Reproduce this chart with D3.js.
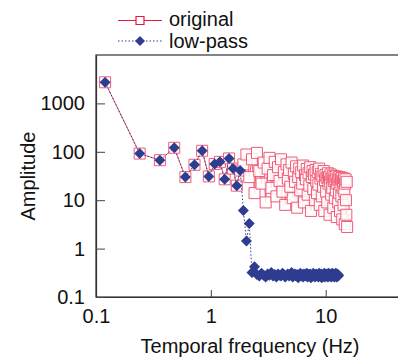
<!DOCTYPE html>
<html>
<head>
<meta charset="utf-8">
<script src="https://cdn.jsdelivr.net/npm/d3@7"></script>
<style>
  body { margin: 0; background: #fff; }
  svg text { font-family: "Liberation Sans", Arial, sans-serif; fill: #111; }
</style>
</head>
<body>
<div id="chart"></div>
<script>
// frequencies (Hz)
var freq = [
  0.12,0.24,0.36,0.48,0.60,0.72,0.84,0.96,1.08,1.20,
  1.32,1.44,1.56,1.68,1.80,1.92,2.04,2.16,2.28,2.40,
  2.52,2.64,2.76,2.88,3.00,3.12,3.24,3.36,3.48,3.60,
  3.72,3.84,3.96,4.08,4.20,4.32,4.44,4.56,4.68,4.80,
  4.92,5.04,5.16,5.28,5.40,5.52,5.64,5.76,5.88,6.00,
  6.12,6.24,6.36,6.48,6.60,6.72,6.84,6.96,7.08,7.20,
  7.32,7.44,7.56,7.68,7.80,7.92,8.04,8.16,8.28,8.40,
  8.52,8.64,8.76,8.88,9.00,9.12,9.24,9.36,9.48,9.60,
  9.72,9.84,9.96,10.08,10.20,10.32,10.44,10.56,10.68,10.80,
  10.92,11.04,11.16,11.28,11.40,11.52,11.64,11.76,11.88,12.00,
  12.12,12.24,12.36,12.48,12.60,12.72,12.84,12.96,13.08,13.20,
  13.32,13.44,13.56,13.68,13.80,13.92,14.04,14.16,14.28,14.40,
  14.52,14.64,14.76,14.88,15.00,15.12,15.24,15.36
];

var original = [
  2730, 92, 67, 121, 30, 54, 105, 31, 56, 62,
  27, 73, 45, 20, 41, 55, 88, 30, 70, 14,
  95, 40, 22, 60, 9, 45, 75, 18, 33, 62,
  12, 48, 25, 70, 15, 38, 8, 55, 28, 42,
  19, 60, 11, 35, 24, 50, 7, 30, 45, 16,
  38, 22, 52, 9, 33, 27, 44, 13, 36, 20,
  48, 6, 30, 40, 17, 34, 10, 42, 25, 14,
  38, 21, 45, 8, 28, 35, 12, 31, 19, 40,
  6, 26, 33, 15, 29, 9, 36, 22, 30, 5,
  24, 34, 13, 28, 18, 32, 7, 25, 30, 11,
  27, 16, 31, 4.5, 22, 28, 9, 26, 14, 30,
  6, 21, 27, 12, 29, 4, 18, 25, 8, 28,
  15, 3.2, 22, 27, 10, 5, 24, 2.8
];

var lowpass = [
  2730, 92, 67, 121, 30, 54, 105, 31, 56, 62,
  27, 73, 45, 20, 41, 6.1, 1.44, 3.3, 0.32, 0.42,
  0.29, 0.27, 0.31, 0.28, 0.26, 0.30, 0.28, 0.32, 0.27, 0.29,
  0.26, 0.30, 0.28, 0.27, 0.31, 0.29, 0.26, 0.28, 0.30, 0.27,
  0.29, 0.32, 0.26, 0.28, 0.30, 0.27, 0.29, 0.25, 0.28, 0.31,
  0.27, 0.29, 0.26, 0.30, 0.28, 0.27, 0.31, 0.26, 0.29, 0.28,
  0.30, 0.25, 0.28, 0.27, 0.31, 0.29, 0.26, 0.28, 0.30, 0.27,
  0.28, 0.26, 0.31, 0.29, 0.27, 0.30, 0.25, 0.28, 0.29, 0.27,
  0.31, 0.26, 0.28, 0.30, 0.27, 0.29, 0.26, 0.31, 0.28, 0.27,
  0.30, 0.28, 0.26, 0.29, 0.31, 0.27, 0.28, 0.30, 0.26, 0.29,
  0.27, 0.31, 0.28, 0.26, 0.30, 0.29, 0.27, 0.28
];

var xTicks = [0.1, 1, 10];
var yTicks = [0.1, 1, 10, 100, 1000];

var w = 398;
var h = 362;
var red = "#e8173f";
var blue = "#2e3d90";

var svg = d3.select("#chart")
  .append("svg")
  .attr("width", w)
  .attr("height", h);

var xscale = d3.scaleLog()
  .domain([0.1, 50])
  .range([96, 406]);

var yscale = d3.scaleLog()
  .domain([0.1, 10000])
  .range([297, 55]);

// frame
svg.append("rect")
  .attr("x", xscale.range()[0])
  .attr("y", yscale.range()[1])
  .attr("width", xscale.range()[1] - xscale.range()[0])
  .attr("height", yscale.range()[0] - yscale.range()[1])
  .style("fill", "none")
  .style("stroke", "#333")
  .style("stroke-width", 1.2);

var xaxis = d3.axisBottom(xscale)
  .tickValues(xTicks)
  .tickFormat(function(d) { return String(d); })
  .tickSizeInner(-7)
  .tickSizeOuter(0)
  .tickPadding(12);

var yaxis = d3.axisLeft(yscale)
  .tickValues(yTicks)
  .tickFormat(function(d) { return String(d); })
  .tickSizeInner(-9)
  .tickSizeOuter(0)
  .tickPadding(11);

var gx = svg.append("g")
  .attr("transform", "translate(0," + yscale.range()[0] + ")")
  .call(xaxis);
var gy = svg.append("g")
  .attr("transform", "translate(" + xscale.range()[0] + ",0)")
  .call(yaxis);

[gx, gy].forEach(function(g) {
  g.select(".domain").style("stroke", "#333").style("stroke-width", 1.2);
  g.selectAll(".tick line").style("stroke", "#444");
  g.selectAll(".tick text").style("font-size", "20px").style("font-family", "Liberation Sans, Arial, sans-serif").style("fill", "#111");
});

svg.append("text")
  .attr("x", 250)
  .attr("y", 353)
  .attr("text-anchor", "middle")
  .style("font-size", "20px")
  .text("Temporal frequency (Hz)");

svg.append("text")
  .attr("transform", "translate(35,176) rotate(-90)")
  .attr("text-anchor", "middle")
  .style("font-size", "20px")
  .text("Amplitude");

var dataOrig = freq.map(function(f, i) { return { f: f, v: original[i] }; });
var dataLow = freq.map(function(f, i) { return { f: f, v: lowpass[i] }; });

var line = d3.line()
  .x(function(d) { return xscale(d.f); })
  .y(function(d) { return yscale(d.v); });

function square(cx, cy, s) {
  return "M" + (cx - s / 2) + "," + (cy - s / 2) + "h" + s + "v" + s + "h" + (-s) + "Z";
}
function diamond(cx, cy, r) {
  return "M" + cx + "," + (cy - r) + "L" + (cx + r) + "," + cy + "L" + cx + "," + (cy + r) + "L" + (cx - r) + "," + cy + "Z";
}

// original
svg.append("path")
  .datum(dataOrig)
  .attr("d", line)
  .style("fill", "none")
  .style("stroke", red)
  .style("stroke-width", 0.9)
  .style("opacity", 0.8);

svg.selectAll("path.sq")
  .data(dataOrig)
  .enter().append("path")
  .attr("class", "sq")
  .attr("d", function(d) { return square(xscale(d.f), yscale(d.v), 11); })
  .style("fill", "#fff")
  .style("fill-opacity", 0.85)
  .style("stroke", "#f05a76")
  .style("stroke-width", 1);

// low-pass
svg.append("path")
  .datum(dataLow)
  .attr("d", line)
  .style("fill", "none")
  .style("stroke", blue)
  .style("stroke-width", 1)
  .style("stroke-dasharray", "1.5,2");

svg.selectAll("path.dm")
  .data(dataLow)
  .enter().append("path")
  .attr("class", "dm")
  .attr("d", function(d) { return diamond(xscale(d.f), yscale(d.v), 5.5); })
  .style("fill", blue);

// legend
var lg = svg.append("g");
lg.append("line").attr("x1", 118).attr("x2", 162).attr("y1", 20.5).attr("y2", 20.5)
  .style("stroke", red).style("stroke-width", 1.2);
lg.append("path").attr("d", square(140, 20.5, 8))
  .style("fill", "#fff").style("stroke", red).style("stroke-width", 1.2);
lg.append("text").attr("x", 169).attr("y", 26).style("font-size", "20px").text("original");

lg.append("line").attr("x1", 118).attr("x2", 162).attr("y1", 41).attr("y2", 41)
  .style("stroke", blue).style("stroke-width", 1).style("stroke-dasharray", "1.5,2");
lg.append("path").attr("d", diamond(140, 41, 5))
  .style("fill", blue);
lg.append("text").attr("x", 169).attr("y", 48).style("font-size", "20px").text("low-pass");
</script>
</body>
</html>
